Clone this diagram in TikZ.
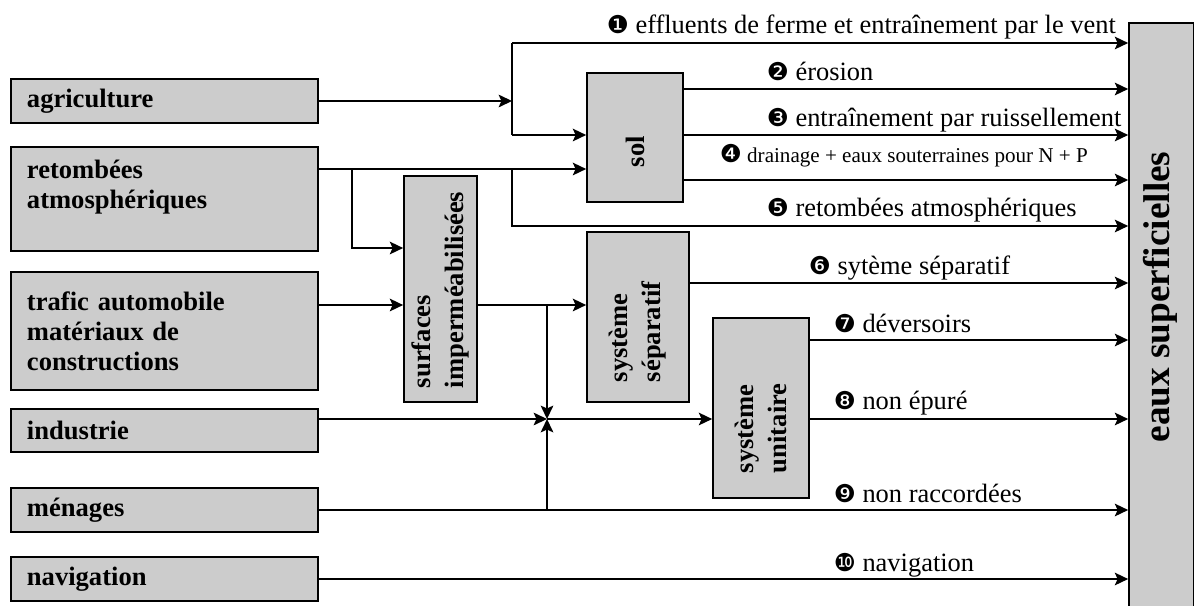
\documentclass[tikz,border=0pt]{standalone}
\usepackage{fontspec}
\setmainfont{Liberation Serif}
\newfontfamily\dingfont{DejaVu Sans}
\usetikzlibrary{arrows.meta}
\definecolor{boxgray}{RGB}{204,204,204}
\newcommand{\boxfont}{\fontsize{18.9}{21.3}\selectfont\bfseries}
\newcommand{\vertfont}{\fontsize{18.9}{23.5}\selectfont\bfseries}
\newcommand{\lblfont}{\fontsize{18.8}{22}\selectfont}
\newcommand{\smalllblfont}{\fontsize{15}{18}\selectfont}
\newcommand{\circnum}[1]{{\dingfont\fontsize{17.5}{18}\selectfont #1}}
\tikzset{
    box/.style={draw, fill=boxgray, line width=1.2pt},
    src/.style={box, text width=6.875cm, inner xsep=0.4cm, align=left,
    	font=\boxfont},
    stage/.style={box, rotate=90, align=left, inner ysep=2pt, font=\vertfont}
}
\tikzset{
    lbl/.style={anchor=base west, inner sep=0pt, font=\lblfont},
    flow/.style={-{Stealth[length=9.5pt, width=9pt, inset=2pt]}}
}

\begin{document}
\begin{tikzpicture}[x=0.025cm, y=-0.025cm, line width=1.2pt]
	\useasboundingbox (0,0) rectangle (1194,605);

	\node (agri) [src, minimum height=1.1cm] at (164.5,101) {agriculture};
	\node (atmo) [src, minimum height=2.6cm] at (164.5,199) {retombées\\atmosphériques\\~};
	\node (trafic) [src, minimum height=2.95cm] at (164.5,331) {trafic automobile\\matériaux de\\constructions};
	\node (indus) [src, minimum height=1.075cm] at (164.5,430.5) {industrie};
	\node (menages) [src, minimum height=1.1cm] at (164.5,510) {ménages};
	\node (navig) [src, minimum height=1.1cm] at (164.5,579) {navigation};

	\node (sol) [stage, minimum width=3.225cm, minimum height=2.4cm, text width=1.475cm, inner xsep=0.875cm] at (635,137.5) {sol};
	\node (surf) [stage, minimum width=5.65cm, minimum height=1.825cm, text width=4.95cm, inner xsep=0.35cm] at (440.5,289) {surfaces\\imperméabilisées};
	\node (sep) [stage, minimum width=4.25cm, minimum height=2.55cm, text width=3.25cm, inner xsep=0.5cm] at (638,317) {système\\séparatif};
	\node (unit) [stage, minimum width=4.5cm, minimum height=2.4cm, text width=3.25cm, inner xsep=0.625cm] at (761,408) {système\\unitaire};
	\node (eaux) [box, minimum width=1.625cm, minimum height=14.725cm] at (1161.5,317.5) {};
	\node (eauxtxt) [rotate=90, font=\fontsize{26.5}{30}\selectfont\bfseries] at (1160,297) {eaux superficielles};

	\coordinate (j1) at (512,101);
	\coordinate (j1a) at (512,43);
	\coordinate (j1b) at (512,135);
	\coordinate (j2) at (352,169);
	\coordinate (j2b) at (352,248);
	\coordinate (j3) at (512,169);
	\coordinate (j3b) at (512,226);
	\coordinate (j4) at (547,305);
	\coordinate (j5) at (547,419);
	\coordinate (j6) at (547,510);
	\coordinate (o2) at (700,89);
	\coordinate (o4) at (700,180);
	\coordinate (o6) at (700,283);
	\coordinate (o7) at (820,340);

	\draw (agri) edge [flow] (j1);
	\draw (j1a) -- (j1b);
	\draw (j1a) edge [flow] (j1a -| eaux.west);
	\draw (j1b) edge [flow] (j1b -| sol.north);
	\draw (atmo.east |- j2) edge [flow] (j2 -| sol.north);
	\draw [flow] (j2) -- (j2b) -- (j2b -| surf.north);
	\draw [flow] (j3) -- (j3b) -- (j3b -| eaux.west);

	\draw (sol.south |- o2) edge [flow] (o2 -| eaux.west);
	\draw (sol.south |- j1b) edge [flow] (j1b -| eaux.west);
	\draw (sol.south |- o4) edge [flow] (o4 -| eaux.west);

	\draw (trafic.east |- j4) edge [flow] (j4 -| surf.north);
	\draw (surf.south |- j4) edge [flow] (j4 -| sep.north);
	\draw (j4) edge [flow] (j5); \draw (indus.east |- j5) edge [flow] (j5);
	\draw (j6) edge [flow] (j5); \draw (menages) edge [flow] (menages -| eaux.west);
	\draw (j5) edge [flow] (j5 -| unit.north);

	\draw (sep.south |- o6) edge [flow] (o6 -| eaux.west);
	\draw (unit.south |- o7) edge [flow] (o7 -| eaux.west);
	\draw (unit.south |- j5) edge [flow] (j5 -| eaux.west);
	\draw (navig) edge [flow] (navig -| eaux.west);

	\node (t1) [lbl] at (606,33) {\circnum{❶} effluents de ferme et entraînement par le vent};
	\node (t2) [lbl] at (766,80) {\circnum{❷} érosion};
	\node (t3) [lbl] at (766,126) {\circnum{❸} entraînement par ruissellement};
	\node (t4) [lbl, font=\smalllblfont] at (719,162) {\circnum{❹} drainage + eaux souterraines pour N + P};
	\node (t5) [lbl] at (766,216) {\circnum{❺} retombées atmosphériques};
	\node (t6) [lbl] at (808,274) {\circnum{❻} sytème séparatif};
	\node (t7) [lbl] at (833,332) {\circnum{❼} déversoirs};
	\node (t8) [lbl] at (833,409) {\circnum{❽} non épuré};
	\node (t9) [lbl] at (833,502) {\circnum{❾} non raccordées};
	\node (t10) [lbl] at (833,571) {\circnum{❿} navigation};
\end{tikzpicture}
\end{document}
